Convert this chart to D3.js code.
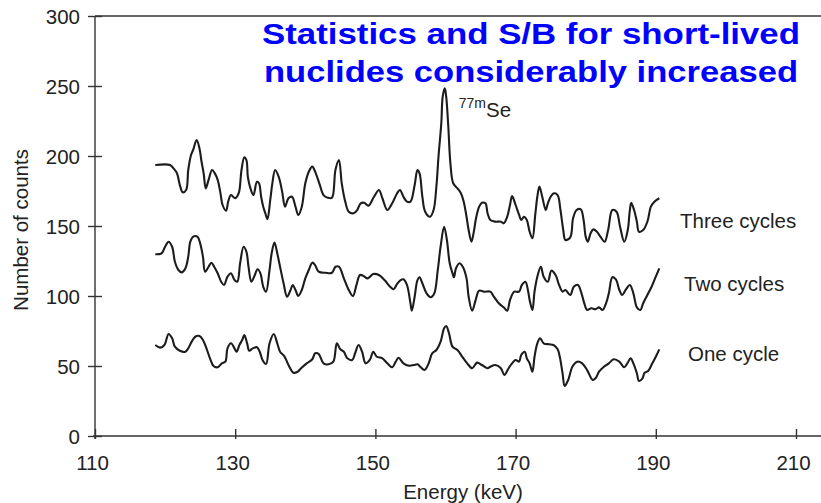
<!DOCTYPE html>
<html>
<head>
<meta charset="utf-8">
<script src="https://cdn.jsdelivr.net/npm/d3@7"></script>
<style>
  html, body { margin: 0; padding: 0; background: #fff; }
  svg { display: block; }
</style>
</head>
<body>
<svg id="chart" width="821" height="503"></svg>
<script>
// Gamma spectra around the 77mSe line, summed over one, two and three cycles
// Each point: [energy in keV, number of counts]
const threeCycles = [
  [118.6,193.6],[120.7,193.6],[121.2,191.2],[121.7,187.6],[122.1,179.3],[122.5,174.1],[123.0,175.7],
  [123.3,190.0],[123.7,200.7],[124.0,204.3],[124.5,211.4],[124.9,205.5],[125.2,195.9],[125.5,187.6],
  [125.8,176.9],[126.2,182.9],[126.7,190.0],[127.1,187.6],[127.5,182.9],[127.9,173.4],[128.2,165.0],
  [128.7,160.9],[129.0,167.4],[129.4,172.1],[130.0,169.8],[130.5,173.4],[130.9,190.0],[131.3,199.1],
  [131.6,197.1],[131.8,185.2],[132.1,178.1],[132.6,172.1],[133.1,181.6],[133.4,180.5],[133.7,170.9],
  [134.0,163.8],[134.3,159.1],[134.6,154.8],[135.0,168.6],[135.3,180.5],[135.7,190.0],[136.2,185.2],
  [136.7,174.5],[137.1,163.8],[137.6,169.8],[138.1,170.9],[138.6,163.8],[139.0,157.9],[139.5,163.8],
  [140.0,180.5],[140.5,188.8],[141.0,192.4],[141.4,188.8],[142.0,180.5],[142.6,172.1],[143.2,170.2],
  [143.8,170.2],[144.3,190.0],[144.8,197.1],[145.2,180.5],[145.7,167.4],[146.2,160.2],[146.9,159.1],
  [147.4,161.4],[147.9,166.2],[148.4,166.6],[149.0,164.5],[149.8,170.9],[150.5,175.7],[151.0,169.8],
  [151.7,161.4],[152.4,166.2],[153.1,173.4],[153.5,175.7],[154.0,170.9],[154.5,167.4],[155.0,167.4],
  [155.6,179.3],[156.0,190.0],[156.3,187.6],[156.7,170.9],[157.1,160.2],[157.8,156.6],[158.3,161.4],
  [158.7,178.1],[159.0,199.5],[159.4,223.4],[159.6,242.4],[159.9,248.4],[160.1,242.4],[160.4,220.9],
  [160.7,194.8],[161.1,180.5],[161.7,176.9],[162.2,173.4],[162.6,167.4],[163.0,156.6],[163.3,147.1],
  [163.7,138.8],[164.0,144.8],[164.4,156.6],[164.8,163.8],[165.2,166.6],[165.7,166.2],[166.0,159.1],
  [166.4,154.3],[167.1,153.1],[167.9,153.1],[168.3,151.9],[168.8,156.6],[169.2,165.0],[169.5,171.4],
  [170.0,165.0],[170.5,157.9],[170.8,154.3],[171.2,156.6],[171.6,154.3],[172.0,145.9],[172.4,141.2],
  [172.8,157.9],[173.1,170.9],[173.4,178.1],[173.8,170.9],[174.3,161.4],[174.6,166.2],[175.0,170.9],
  [175.5,173.4],[176.0,172.1],[176.4,161.4],[176.8,147.1],[177.1,140.0],[177.8,141.9],[178.2,155.5],
  [178.7,161.4],[179.3,161.9],[179.7,154.3],[180.0,142.4],[180.3,138.8],[180.7,144.8],[181.1,147.6],
  [181.6,145.9],[182.1,142.4],[182.7,138.8],[183.2,147.1],[183.8,161.4],[184.4,160.2],[184.9,149.5],
  [185.5,138.8],[186.0,147.1],[186.3,161.4],[186.5,166.6],[186.9,161.4],[187.3,153.1],[187.6,145.9],
  [188.2,147.1],[188.8,153.1],[189.3,163.8],[189.8,167.4],[190.5,169.8]
];

const twoCycles = [
  [118.6,129.8],[119.5,130.5],[120.0,135.2],[120.5,138.8],[121.0,135.2],[121.4,124.5],[121.9,118.6],
  [122.4,116.9],[122.9,119.8],[123.3,128.1],[123.6,138.8],[124.0,142.4],[124.6,142.4],[125.0,137.6],
  [125.4,128.1],[125.7,117.4],[126.2,120.9],[126.6,123.8],[127.0,120.9],[127.5,116.2],[128.0,110.2],
  [128.4,107.9],[128.9,113.8],[129.4,116.2],[129.9,111.4],[130.3,110.2],[130.7,123.4],[131.2,135.2],
  [131.6,131.6],[131.9,120.9],[132.3,110.2],[132.7,113.8],[133.2,119.1],[133.6,116.2],[134.0,106.6],
  [134.4,103.1],[134.9,118.6],[135.2,130.5],[135.6,138.1],[136.0,130.5],[136.4,120.9],[136.9,109.1],
  [137.4,99.5],[137.9,104.3],[138.2,107.9],[138.6,104.3],[139.0,100.0],[139.5,104.3],[140.0,112.6],
  [140.5,118.6],[141.0,123.8],[141.4,122.1],[141.9,117.4],[142.9,116.6],[143.8,116.6],[144.3,120.9],
  [144.8,120.9],[145.5,112.6],[146.2,104.3],[146.8,100.0],[147.3,107.9],[147.8,115.0],[148.3,114.3],
  [148.9,112.6],[149.7,115.7],[150.5,115.0],[151.3,111.4],[152.1,106.6],[152.6,104.8],[153.1,108.6],
  [153.6,111.4],[154.0,111.9],[154.5,107.9],[155.0,94.8],[155.2,89.5],[155.6,99.5],[156.0,111.4],
  [156.3,113.4],[156.7,109.1],[157.3,101.9],[157.9,99.1],[158.4,101.9],[158.9,118.6],[159.3,135.2],
  [159.8,149.5],[160.2,140.0],[160.6,123.4],[161.0,116.2],[161.2,113.4],[161.5,119.8],[162.0,123.4],
  [162.5,120.5],[163.0,112.6],[163.3,99.5],[163.8,89.5],[164.3,97.1],[164.8,103.8],[165.5,103.1],
  [166.4,103.1],[166.9,99.5],[167.6,94.8],[168.3,91.9],[168.8,89.5],[169.2,97.1],[169.8,103.1],
  [170.5,103.1],[170.9,107.9],[171.4,110.2],[171.8,103.1],[172.0,97.1],[172.4,90.0],[172.7,103.1],
  [173.1,113.8],[173.6,120.9],[174.0,113.8],[174.6,110.2],[175.1,118.1],[175.7,115.0],[176.2,107.9],
  [176.7,103.1],[177.1,104.3],[177.8,100.7],[178.3,106.6],[178.9,107.9],[179.4,101.9],[179.8,94.8],
  [180.2,90.0],[180.8,91.2],[181.4,90.5],[181.9,91.9],[182.4,90.0],[182.9,94.8],[183.3,101.9],
  [183.8,113.4],[184.3,111.9],[184.8,104.3],[185.2,100.7],[185.7,104.3],[186.3,107.9],[186.8,101.9],
  [187.3,91.9],[187.8,90.0],[188.2,94.8],[188.8,100.7],[189.4,106.6],[190.0,113.8],[190.5,119.8]
];

const oneCycle = [
  [118.6,65.0],[119.3,63.1],[119.9,65.0],[120.5,72.9],[121.0,69.8],[121.4,63.8],[122.1,60.9],
  [122.9,60.2],[123.3,62.6],[123.8,67.4],[124.3,70.9],[124.9,71.4],[125.4,68.6],[125.9,62.6],
  [126.4,55.5],[126.9,50.0],[127.5,49.1],[128.1,51.9],[128.6,53.1],[128.9,62.6],[129.4,66.2],
  [129.9,62.6],[130.2,60.2],[130.6,65.0],[131.0,68.6],[131.3,72.1],[131.7,66.2],[132.0,60.9],
  [132.5,62.6],[133.1,63.4],[133.5,60.2],[133.9,54.3],[134.4,51.4],[134.9,66.2],[135.5,72.9],
  [136.0,66.2],[136.4,60.2],[137.0,57.1],[137.6,50.7],[138.3,45.2],[138.9,45.9],[139.4,48.4],
  [140.2,51.9],[141.0,54.8],[141.4,59.1],[141.9,58.6],[142.6,51.9],[143.3,51.2],[144.0,53.1],
  [144.5,66.2],[145.0,61.9],[145.5,60.2],[146.0,55.5],[146.7,54.3],[147.1,59.1],[147.6,65.0],
  [148.1,60.2],[148.6,51.9],[149.2,54.3],[149.7,60.2],[150.2,56.6],[151.0,55.5],[151.7,51.9],
  [152.4,49.1],[152.9,53.1],[153.3,55.9],[154.0,51.9],[154.8,50.2],[155.5,50.7],[156.0,51.2],
  [156.4,49.5],[157.0,47.1],[157.6,51.9],[158.1,59.1],[158.7,61.4],[159.3,67.4],[159.8,76.9],
  [160.1,78.6],[160.5,73.4],[161.0,63.8],[161.7,61.4],[162.4,56.6],[163.1,51.9],[163.8,48.4],
  [164.5,52.4],[165.2,50.7],[166.0,48.4],[166.4,49.5],[167.1,50.7],[167.9,48.4],[168.4,43.6],
  [169.0,48.4],[169.5,51.9],[170.0,54.3],[170.5,53.1],[170.8,57.9],[171.3,60.2],[171.6,55.5],
  [172.0,51.9],[172.4,45.9],[172.7,56.6],[173.1,66.2],[173.5,69.8],[174.0,66.2],[174.8,65.5],
  [175.4,65.0],[176.0,61.9],[176.3,56.6],[176.7,44.8],[177.0,35.7],[177.5,40.0],[178.1,49.5],
  [178.8,53.1],[179.5,51.9],[180.2,47.1],[181.0,40.0],[181.4,41.2],[181.9,45.9],[182.6,49.5],
  [183.3,51.9],[184.0,54.8],[184.8,53.1],[185.5,49.1],[186.0,52.4],[186.4,55.5],[186.8,51.9],
  [187.3,44.8],[187.6,39.3],[188.1,41.2],[188.4,45.2],[188.9,46.4],[189.5,51.9],[190.0,56.6],
  [190.5,61.9]
];

const seriesList = [threeCycles, twoCycles, oneCycle];
const seriesLabels = ["Three cycles", "Two cycles", "One cycle"];
const energyTicks = [110, 130, 150, 170, 190, 210];
const countTicks = [0, 50, 100, 150, 200, 250, 300];
const titleLines = ["Statistics and S/B for short-lived", "nuclides considerably increased"];

const W = 821, H = 503;
const FONT = "'Liberation Sans', Arial, Helvetica, sans-serif";
const FS = 20.5;          // size of the figure lettering
const INK = "#222";

const svg = d3.select("#chart");

const x = d3.scaleLinear().domain([110, 210]).range([95, 796]);
const y = d3.scaleLinear().domain([0, 300]).range([436, 16]);

// frame: left axis, bottom axis and top rule running off the right edge
const x0 = x(110), yTop = y(300), yBot = y(0);
const frame = svg.append("g").attr("stroke", "#333").attr("stroke-width", 1.4).attr("fill", "none");
frame.append("line").attr("x1", x0).attr("x2", x0).attr("y1", yTop).attr("y2", yBot + 3);
frame.append("line").attr("x1", x0).attr("x2", W).attr("y1", yTop).attr("y2", yTop);
frame.append("line").attr("x1", x0 - 2).attr("x2", W).attr("y1", yBot).attr("y2", yBot);

// y axis
const yAxis = svg.append("g")
  .attr("transform", `translate(${x0},0)`)
  .call(d3.axisLeft(y).tickValues(countTicks).tickSize(7).tickSizeOuter(0).tickFormat(d3.format("d")));
yAxis.select(".domain").remove();
yAxis.selectAll(".tick line").attr("x1", -7).attr("x2", 7).attr("stroke", "#333").attr("stroke-width", 1.4);
yAxis.selectAll(".tick text")
  .attr("x", -15).attr("dy", "0.36em")
  .attr("font-family", FONT).attr("font-size", FS).attr("fill", INK);

// x axis
const xAxis = svg.append("g")
  .attr("transform", `translate(0,${yBot})`)
  .call(d3.axisBottom(x).tickValues(energyTicks).tickSize(7).tickSizeOuter(0).tickFormat(d3.format("d")));
xAxis.select(".domain").remove();
xAxis.selectAll(".tick line").attr("y1", -7).attr("y2", 3).attr("stroke", "#333").attr("stroke-width", 1.4);
xAxis.selectAll(".tick text")
  .attr("x", -3).attr("y", 34).attr("dy", 0)
  .attr("font-family", FONT).attr("font-size", FS).attr("fill", INK);

function label(g, txt, px, py, opts = {}) {
  return g.append("text")
    .attr("transform", `translate(${px},${py})${opts.rotate ? " rotate(-90)" : ""}`)
    .attr("text-anchor", opts.anchor || "start")
    .attr("font-family", FONT)
    .attr("font-size", opts.size || FS)
    .attr("fill", opts.fill || INK)
    .text(txt);
}

const texts = svg.append("g");
label(texts, "Energy (keV)", 463, 499, { anchor: "middle" });
label(texts, "Number of counts", 28, 230, { anchor: "middle", rotate: true });

// spectra
const line = d3.line()
  .x(d => x(d[0]))
  .y(d => y(d[1]))
  .curve(d3.curveCatmullRom.alpha(0.5));

svg.append("g")
  .selectAll("path")
  .data(seriesList)
  .join("path")
  .attr("d", line)
  .attr("fill", "none")
  .attr("stroke", "#1c1c1c")
  .attr("stroke-width", 2.1)
  .attr("stroke-linejoin", "round");

// series names to the right of each spectrum
const labelPos = [[680, 228], [684, 291], [688, 361]];
seriesList.forEach((s, i) => {
  label(texts, seriesLabels[i], labelPos[i][0], labelPos[i][1]);
});

// peak annotation 77mSe
const peak = threeCycles.reduce((a, b) => (b[1] > a[1] ? b : a));
const ann = texts.append("text")
  .attr("transform", `translate(${x(peak[0]) + 14},${y(peak[1]) + 29})`)
  .attr("font-family", FONT).attr("fill", INK);
ann.append("tspan").attr("font-size", 14).attr("dy", -9).text("77m");
ann.append("tspan").attr("font-size", FS).attr("dy", 9).text("Se");

// headline
titleLines.forEach((t, i) => {
  svg.append("text")
    .attr("x", 531).attr("y", 44 + i * 38)
    .attr("text-anchor", "middle")
    .attr("font-family", FONT)
    .attr("font-weight", "bold")
    .attr("font-size", 30)
    .attr("fill", "#0000ff")
    .attr("textLength", i === 0 ? 538 : 534)
    .attr("lengthAdjust", "spacingAndGlyphs")
    .text(t);
});
</script>
</body>
</html>
